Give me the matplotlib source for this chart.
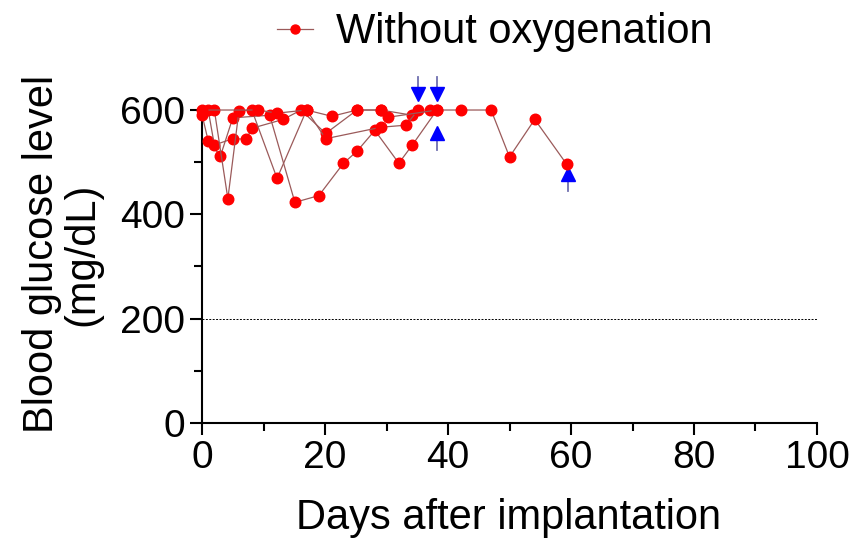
import numpy as np
import matplotlib
matplotlib.use('Agg')
import matplotlib.pyplot as plt
from matplotlib.ticker import MultipleLocator

plt.rcParams['font.family'] = ['Liberation Sans', 'DejaVu Sans']

# --- data: blood glucose per mouse (mg/dL) ---
m1_days = [0, 1, 3, 5, 11, 15.1, 19, 23, 25.2, 28.1, 32, 34.2, 38.2]
m1_vals = [591, 541, 512, 585, 590, 423, 436, 498, 521, 561, 498, 533, 600]

m2_days = [1, 2, 5, 7.2, 8.1, 13.2, 16.1, 20.1, 25.2, 29.1, 34.2, 37.1, 42.1, 47, 50, 54.1, 59.3]
m2_vals = [600, 533, 545, 544, 565, 582, 600, 555, 600, 600, 590, 600, 600, 600, 510, 582, 496]

m3_days = [2, 4.2, 6, 8.1, 12.2, 17, 20.1, 29.1, 33.2, 35.1]
m3_vals = [600, 430, 598, 600, 469, 600, 545, 567, 571, 600]

m4_days = [0, 9.1, 12.2, 17, 21.1, 25.2, 29.1, 30.2, 38.2]
m4_vals = [600, 600, 594, 600, 588, 600, 600, 586, 600]

mice = [(m1_days, m1_vals), (m2_days, m2_vals), (m3_days, m3_vals), (m4_days, m4_vals)]

# arrows (day, glucose at tip)
down_arrow_days = [35.1, 38.2]
down_arrow_tip = [622, 622]
up_arrow_days = [38.2, 59.5]
up_arrow_tip = [565, 487]

threshold = 200

LINE_C = '#9b5a5a'
DOT_C = '#ff0000'

fig = plt.figure(figsize=(8.59, 5.38), dpi=100)
ax = fig.add_axes([0.2352, 0.2138, 0.7159, 0.5817])

for i, (d, v) in enumerate(mice):
    ax.plot(d, v, '-o', color=LINE_C, lw=0.9, markersize=7.6,
            markerfacecolor=DOT_C, markeredgecolor=DOT_C, clip_on=False,
            zorder=3, label='Without oxygenation' if i == 0 else None)

ax.axhline(threshold, color='black', lw=0.7, ls=(0, (2, 1.5)), zorder=1)

# blue arrows
for d, tip in zip(down_arrow_days, down_arrow_tip):
    ax.plot([d, d], [tip + 14, tip + 42], color='#7070b0', lw=1.3, clip_on=False)
    ax.plot(d, tip + 9, marker='v', color='#0000ff', markersize=10, clip_on=False)
for d, tip in zip(up_arrow_days, up_arrow_tip):
    ax.plot([d, d], [tip - 14, tip - 42], color='#7070b0', lw=1.3, clip_on=False)
    ax.plot(d, tip - 9, marker='^', color='#0000ff', markersize=10, clip_on=False)

ax.set_xlim(0, 100)
ax.set_ylim(0, 600)
ax.xaxis.set_major_locator(MultipleLocator(20))
ax.xaxis.set_minor_locator(MultipleLocator(10))
ax.yaxis.set_major_locator(MultipleLocator(200))
ax.yaxis.set_minor_locator(MultipleLocator(100))

for s in ['top', 'right']:
    ax.spines[s].set_visible(False)
for s in ['left', 'bottom']:
    ax.spines[s].set_linewidth(1.5)
ax.tick_params(which='major', length=8.5, width=1.5, labelsize=28, pad=4)
ax.tick_params(which='minor', length=5.5, width=1.5)

ax.set_xlabel('Days after implantation', fontsize=30)
ax.xaxis.set_label_coords(0.498, -0.24)
ax.set_ylabel('Blood glucose level\n(mg/dL)', fontsize=30, linespacing=1.0)
ax.yaxis.set_label_coords(-0.162, 0.54)

fig.legend(loc='center', bbox_to_anchor=(0.576, 0.94), frameon=False,
           fontsize=30, handlelength=0.85, handletextpad=0.55, markerscale=0.85)

fig.savefig('out.png', dpi=100)
